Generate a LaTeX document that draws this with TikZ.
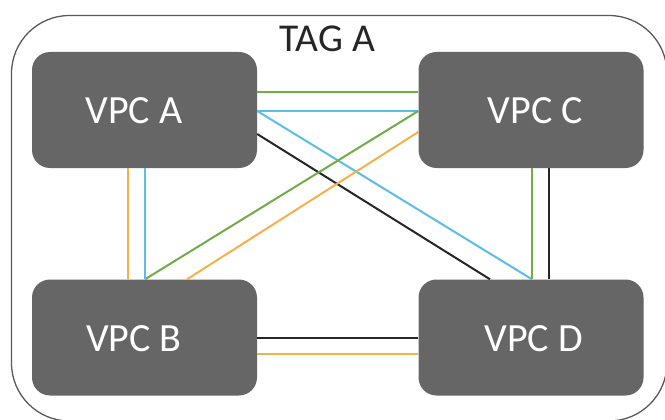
\documentclass[tikz,border=0pt]{standalone}
\usepackage{fontspec}
\setmainfont{Carlito}
\usetikzlibrary{calc}
\definecolor{boxgray}{HTML}{666666}
\definecolor{framegray}{HTML}{595959}
\definecolor{lgreen}{HTML}{70AD47}
\definecolor{lblue}{HTML}{5BBDE8}
\definecolor{lorange}{HTML}{F5B04A}
\definecolor{ldark}{HTML}{262626}
\tikzset{
  vpcbox/.style={fill=boxgray, draw=none, rounded corners=18pt, minimum width=225pt, minimum height=116pt, inner sep=0pt},
  vpctext/.style={text=white, font=\fontsize{40}{48}\selectfont, anchor=base, inner sep=0pt},
  link/.style={line width=2pt},
}
\begin{document}
\begin{tikzpicture}[x=1pt,y=-1pt]
\useasboundingbox (0,0) rectangle (665,420);
\draw[framegray, line width=1.3pt, rounded corners=58pt] (11.5,15.5) rectangle (667,421);
\node[text=ldark, font=\fontsize{39.5}{46}\selectfont, anchor=base, inner sep=0pt] (tag) at (327.5,52) {TAG A};

\node[vpcbox] (A) at (144.5,110) {};
\node[vpcbox] (C) at (531,110) {};
\node[vpcbox] (B) at (144.5,337.5) {};
\node[vpcbox] (D) at (531,337.5) {};

\node[vpctext] (tA) at (134,124) {VPC A};
\node[vpctext] (tC) at (535.5,124) {VPC C};
\node[vpctext] (tB) at (134,351) {VPC B};
\node[vpctext] (tD) at (533.5,351) {VPC D};

% A - C
\draw[link, lgreen] (A.east |- 0,92) -- (C.west |- 0,92);
\draw[link, lblue] (A.east |- 0,111) -- (C.west |- 0,111);
% diagonals
\draw[link, lblue] (A.east |- 0,111) -- (532,0 |- D.north);
\draw[link, ldark] (A.east |- 0,134) -- (490,0 |- D.north);
\draw[link, lgreen] (C.west |- 0,111) -- (145,0 |- B.north);
\draw[link, lorange] (C.west |- 0,132) -- (187,0 |- B.north);
% A - B
\draw[link, lorange] (128,0 |- A.south) -- (128,0 |- B.north);
\draw[link, lblue] (145,0 |- A.south) -- (145,0 |- B.north);
% C - D
\draw[link, lgreen] (532,0 |- C.south) -- (532,0 |- D.north);
\draw[link, ldark] (549,0 |- C.south) -- (549,0 |- D.north);
% B - D
\draw[link, ldark] (B.east |- 0,338) -- (D.west |- 0,338);
\draw[link, lorange] (B.east |- 0,354) -- (D.west |- 0,354);
\end{tikzpicture}
\end{document}
